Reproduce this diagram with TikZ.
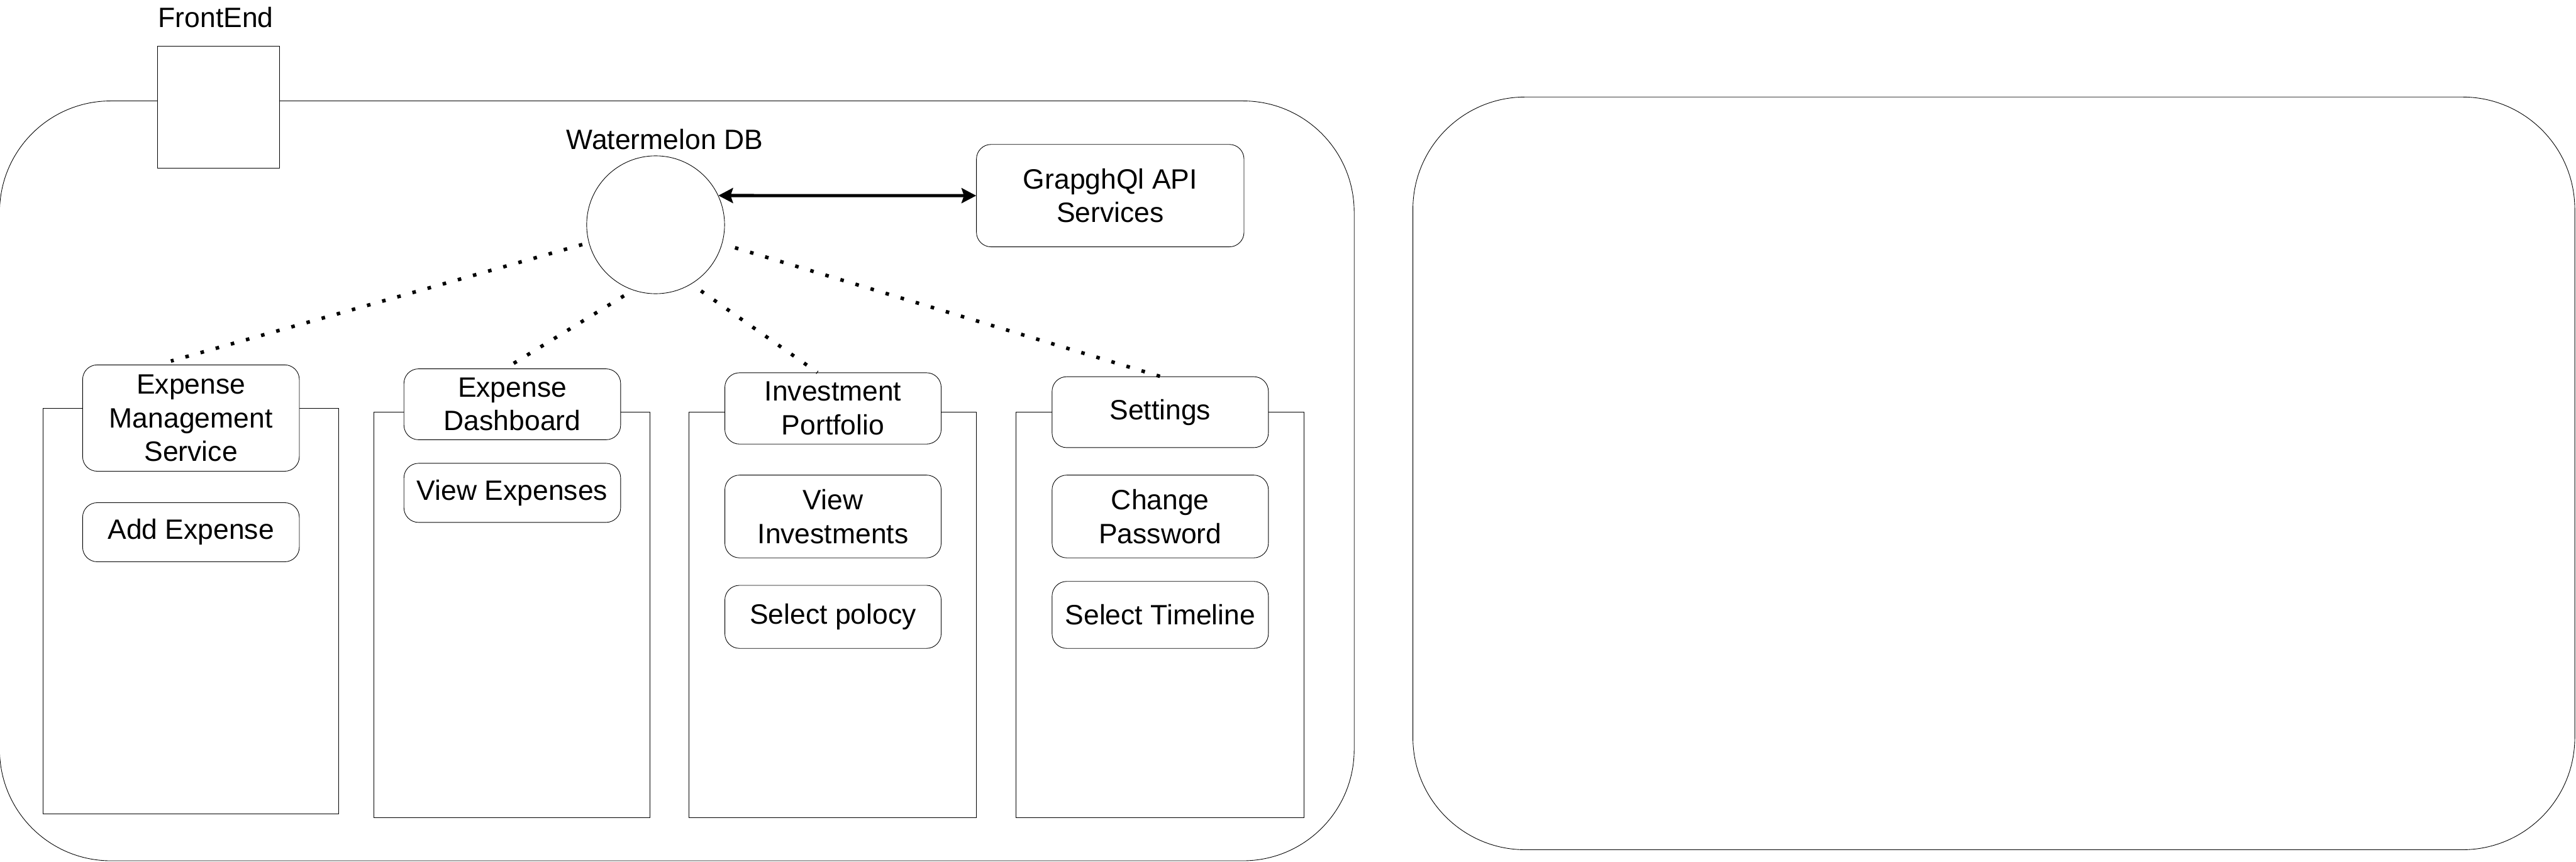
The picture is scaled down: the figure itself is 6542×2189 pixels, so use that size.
\documentclass[tikz,border=0pt]{standalone}
\usepackage{fontspec}
\setmainfont{Liberation Sans}
\usetikzlibrary{arrows.meta}
\newcommand\dfont{\fontsize{20.2pt}{24.3pt}\selectfont}
\begin{document}
\begin{tikzpicture}[x=0.01cm,y=-0.01cm,
  thin line/.style={line width=0.4pt},
  frame/.style={draw, thin line, inner sep=0},
  plainbox/.style={draw, thin line, fill=white, inner sep=0},
  colbox/.style={draw, thin line, fill=white, inner sep=0, minimum height=10.3cm},
  box/.style={draw, thin line, fill=white, rounded corners=0.37cm, align=center, inner sep=0, font=\dfont},
  lbl/.style={inner sep=0, font=\dfont},
  dotline/.style={line width=2.56pt, dash pattern=on 2.56pt off 8.8pt},
  biarrow/.style={line width=2.28pt, {Stealth[length=0.37cm,width=0.38cm,inset=0.06cm]}-{Stealth[length=0.37cm,width=0.38cm,inset=0.06cm]}}
]
\useasboundingbox (0,0) rectangle (6542,2189);

% containers
\node[frame, rounded corners=2.82cm, minimum width=34.38cm, minimum height=19.29cm] (frameL) at (1719,1221.5) {};
\node[frame, rounded corners=2.85cm, minimum width=29.49cm, minimum height=19.11cm] (frameR) at (5063.5,1202.5) {};

% FrontEnd
\node[plainbox, minimum width=3.09cm, minimum height=3.10cm] (fe) at (554.5,272) {};
\node[lbl, anchor=base] (felbl) at (548,69) {FrontEnd};

% columns
\node[colbox, minimum width=7.5cm] (col1) at (485,1552) {};
\node[colbox, minimum width=7.01cm] (col2) at (1300.5,1562) {};
\node[colbox, minimum width=7.3cm] (col3) at (2115,1562) {};
\node[colbox, minimum width=7.31cm] (col4) at (2946.5,1562) {};

% headers
\node[box, minimum width=5.5cm, minimum height=2.7cm] (ems) at (485,1062) {Expense\\Management\\Service};
\node[box, minimum width=5.5cm, minimum height=1.8cm] (ed) at (1301,1027) {Expense\\Dashboard};
\node[box, minimum width=5.49cm, minimum height=1.81cm] (ip) at (2115.5,1037.5) {Investment\\Portfolio};
\node[box, minimum width=5.49cm, minimum height=1.8cm] (set) at (2946.5,1047) {Settings};

% items
\node[box, minimum width=5.5cm, minimum height=1.5cm] (add) at (485,1352) {Add Expense};
\node[box, minimum width=5.5cm, minimum height=1.5cm] (vexp) at (1301,1252) {View Expenses};
\node[box, minimum width=5.49cm, minimum height=2.1cm] (vinv) at (2115.5,1312) {View\\Investments};
\node[box, minimum width=5.49cm, minimum height=1.6cm] (spol) at (2115.5,1567) {Select polocy};
\node[box, minimum width=5.49cm, minimum height=2.1cm] (cpw) at (2946.5,1312) {Change\\Password};
\node[box, minimum width=5.49cm, minimum height=1.7cm] (stl) at (2946.5,1562) {Select Timeline};

% database and api
\node[draw, thin line, circle, fill=white, minimum size=3.5cm, inner sep=0] (db) at (1665,571) {};
\node[lbl, anchor=base] (dblbl) at (1688,379) {Watermelon DB};
\node[box, minimum width=6.79cm, minimum height=2.6cm] (api) at (2819.5,497) {GrapghQl API\\Services};

% connectors
\draw[biarrow] (db.25) -- (api.west);
\draw[dotline, shorten <=0.17cm] (db.195) -- ([xshift=-0.51cm,yshift=0.09cm]ems.north);
\draw[dotline, shorten <=0.27cm] (db.251) -- ([xshift=-0.18cm]ed.north);
\draw[dotline, shorten <=0.30cm] (db.301) -- ([xshift=-0.395cm]ip.north);
\draw[dotline, shorten <=0.34cm] (db.344) -- (set.north);
\end{tikzpicture}
\end{document}
